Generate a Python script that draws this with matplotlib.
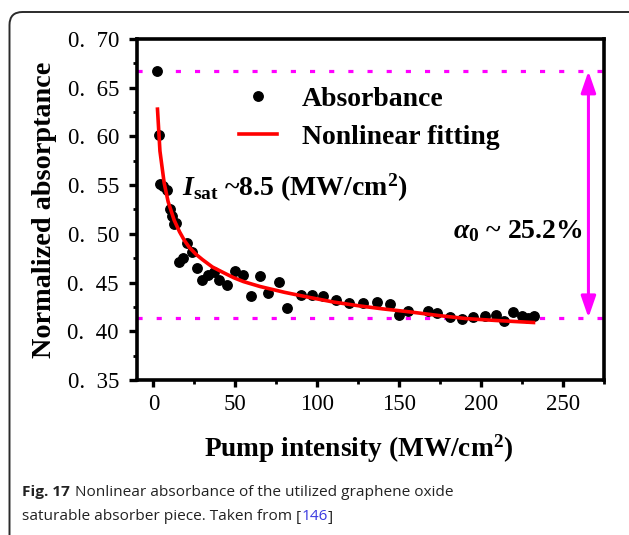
import matplotlib
matplotlib.use("Agg")
import matplotlib.pyplot as plt
from matplotlib.patches import FancyBboxPatch, FancyArrowPatch
from matplotlib.ticker import MultipleLocator, FixedLocator, FixedFormatter

# ---- data ----
pump = [2.1, 3.5, 4.0, 6.0, 8.2, 10.2, 11.5, 12.7, 13.7, 15.7, 18.0, 20.8, 23.8,
        26.6, 29.4, 33.2, 37.2, 40.0, 45.1, 49.8, 54.9, 59.3, 65.2, 69.8, 76.6,
        81.6, 90.2, 96.8, 103.5, 111.6, 119.1, 127.9, 136.4, 144.5, 149.8, 155.6,
        167.4, 173.2, 181.0, 188.5, 195.3, 202.2, 208.9, 213.8, 219.5, 224.8,
        228.9, 232.1]
absorb = [0.667, 0.601, 0.551, 0.549, 0.545, 0.526, 0.518, 0.510, 0.511, 0.471,
          0.475, 0.491, 0.481, 0.465, 0.453, 0.458, 0.461, 0.453, 0.4475, 0.462,
          0.458, 0.436, 0.457, 0.439, 0.451, 0.424, 0.437, 0.437, 0.436, 0.432,
          0.429, 0.429, 0.430, 0.428, 0.417, 0.421, 0.421, 0.4185, 0.415, 0.413,
          0.4145, 0.416, 0.4167, 0.411, 0.420, 0.4157, 0.4135, 0.4157]

fit_x = [2.5, 4, 6.6, 9, 12.7, 16, 19, 22, 26, 30, 36, 43, 49, 55, 65, 80, 96,
         110, 126, 140, 156, 175, 191, 210, 232]
fit_y = [0.628, 0.585, 0.552, 0.533, 0.514, 0.502, 0.493, 0.486, 0.479, 0.4735,
         0.466, 0.460, 0.455, 0.451, 0.446, 0.440, 0.4345, 0.430, 0.426, 0.423,
         0.420, 0.416, 0.413, 0.411, 0.409]

level_high = 0.667
level_low = 0.414
arrow_x = 265.5

x_ticks = [0, 50, 100, 150, 200, 250]
x_labels = ["0", "50", "100", "150", "200", "250"]
y_ticks = [0.35, 0.40, 0.45, 0.50, 0.55, 0.60, 0.65, 0.70]
y_labels = ["0.  35", "0.  40", "0.  45", "0.  50", "0.  55", "0.  60", "0.  65", "0.  70"]

plt.rcParams['mathtext.fontset'] = 'custom'
plt.rcParams['mathtext.rm'] = 'Liberation Serif:bold'
plt.rcParams['mathtext.bf'] = 'Liberation Serif:bold'
plt.rcParams['mathtext.it'] = 'Liberation Serif:italic:bold'

SERIF = 'Liberation Serif'
W, H = 629, 535
fig = plt.figure(figsize=(W / 100, H / 100), dpi=100)
fig.patch.set_facecolor('white')

# rounded frame (display coords = pixels)
frame = FancyBboxPatch((9.5, -20), 640, H - 12 + 20, boxstyle="round,pad=0,rounding_size=13",
                       transform=None, facecolor='none', edgecolor='#2b2b2b', linewidth=1.4)
fig.add_artist(frame)

ax = fig.add_axes([137 / W, 1 - 380 / H, (604 - 137) / W, (380 - 39) / H])
ax.set_xlim(-10, 275)
ax.set_ylim(0.35, 0.70)

for s in ax.spines.values():
    s.set_linewidth(2.6)
    s.set_color('black')

ax.xaxis.set_major_locator(FixedLocator(x_ticks))
ax.xaxis.set_major_formatter(FixedFormatter(x_labels))
ax.xaxis.set_minor_locator(MultipleLocator(25))
ax.yaxis.set_major_locator(FixedLocator(y_ticks))
ax.yaxis.set_major_formatter(FixedFormatter(y_labels))
ax.yaxis.set_minor_locator(MultipleLocator(0.025))
ax.tick_params(which='major', direction='out', length=5, width=2.4, labelsize=16.5, pad=5)
ax.tick_params(which='minor', direction='out', length=3, width=2.0)
ax.tick_params(axis='y', which='major', length=5.5, pad=7.5)
for lab in ax.get_xticklabels() + ax.get_yticklabels():
    lab.set_fontfamily(SERIF)

# dotted magenta levels
dot = (0, (1.6, 4.4))
ax.axhline(level_high, color='#ff00ff', lw=2.3, linestyle=dot, zorder=1)
ax.axhline(level_low, color='#ff00ff', lw=2.3, linestyle=dot, zorder=1)

# data
ax.plot(pump, absorb, 'o', color='black', ms=6.8, zorder=3, label='Absorbance')
ax.plot(fit_x, fit_y, '-', color='#ff0000', lw=2.6, zorder=4, label='Nonlinear fitting')

# double arrow
arr = FancyArrowPatch((arrow_x, level_low), (arrow_x, level_high),
                      arrowstyle='<|-|>,head_length=13,head_width=4.5',
                      color='#ff00ff', lw=2.2, shrinkA=0, shrinkB=0, mutation_scale=1, zorder=2)
ax.add_patch(arr)

leg = ax.legend(loc='upper left', bbox_to_anchor=(0.188, 0.901), frameon=False,
                prop={'family': SERIF, 'weight': 'bold', 'size': 20},
                handlelength=1.37, handletextpad=0.9, labelspacing=0.44, borderpad=0,
                numpoints=1)

ax.text(17.5, 0.547, r'$\mathit{I}_{\mathrm{sat}}$' + ' ~8.5 (MW/cm' + r'$^{2}$' + ')',
        fontfamily=SERIF, fontweight='bold', fontsize=20, va='center', ha='left')
ax.text(183, 0.503, r'$\mathit{\alpha}_{0}$' + ' ~ 25.2%', fontfamily=SERIF,
        fontweight='bold', fontsize=20, va='center', ha='left')

ax.set_xlabel(r'Pump intensity (MW/cm$^{\mathbf{2}}$)', fontfamily=SERIF, fontweight='bold',
              fontsize=19.7)
ax.xaxis.set_label_coords((359 - 137) / 467, -0.155)
ax.set_ylabel('Normalized absorptance', fontfamily=SERIF, fontweight='bold',
              fontsize=20.3)
ax.yaxis.set_label_coords((57 - 137) / 467, 0.5)

# caption
renderer = fig.canvas.get_renderer()
cap_fs = 11.1
cap_c = '#222222'
t1 = fig.text(22 / W, 1 - 492 / H, 'Fig. 17', fontfamily='Open Sans', fontweight='bold',
              fontsize=cap_fs, va='center', ha='left', color=cap_c)
bb = t1.get_window_extent(renderer)
fig.text((bb.x1 + 5) / W, 1 - 492 / H, 'Nonlinear absorbance of the utilized graphene oxide',
         fontfamily='Open Sans', fontsize=cap_fs, va='center', ha='left', color=cap_c)
t3 = fig.text(22 / W, 1 - 517 / H, 'saturable absorber piece. Taken from ', fontfamily='Open Sans',
              fontsize=cap_fs, va='center', ha='left', color=cap_c)
bb3 = t3.get_window_extent(renderer)
t4 = fig.text(bb3.x1 / W, 1 - 517 / H, '[', fontfamily='Open Sans', fontsize=cap_fs,
              va='center', ha='left', color=cap_c)
bb4 = t4.get_window_extent(renderer)
t5 = fig.text(bb4.x1 / W, 1 - 517 / H, '146', fontfamily='Open Sans', fontsize=cap_fs,
              va='center', ha='left', color='#3a3ae0')
bb5 = t5.get_window_extent(renderer)
fig.text(bb5.x1 / W, 1 - 517 / H, ']', fontfamily='Open Sans', fontsize=cap_fs,
         va='center', ha='left', color=cap_c)

fig.savefig('out.png', dpi=100, facecolor='white')
